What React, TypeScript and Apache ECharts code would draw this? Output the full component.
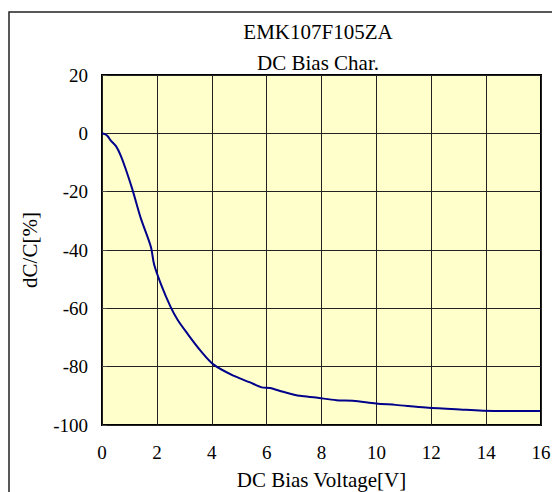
import React, { useEffect, useRef } from "react";
import * as echarts from "echarts";

const titleLines = ["EMK107F105ZA", "DC Bias Char."];
const xAxisName = "DC Bias Voltage[V]";
const yAxisName = "dC/C[%]";
const voltage = [0, 0.1, 0.2, 0.33, 0.51, 0.69, 0.87, 1.11, 1.41, 1.78, 1.9, 2.14, 2.5, 2.76, 3.1, 3.59, 4.07, 4.79, 5.4, 5.82, 6.12, 6.6, 7.21, 7.8, 8.54, 9.14, 9.99, 10.7, 11.8, 12.9, 14.3, 15.97];
const dcRatio = [0, -0.3, -0.9, -2.6, -4.4, -7.8, -12.4, -19.3, -29, -38.9, -45, -51.5, -59.5, -64, -68.5, -74.5, -79.3, -83.1, -85.4, -87.1, -87.3, -88.6, -90, -90.6, -91.5, -91.7, -92.6, -93.1, -94, -94.6, -95.2, -95.2];

export default function App() {
  const ref = useRef<HTMLDivElement>(null);
  useEffect(() => {
    const chart = echarts.init(ref.current!, null, { renderer: "svg" });
    const font = "'Liberation Serif', 'Times New Roman', serif";
    chart.setOption({
      animation: false,
      backgroundColor: "#ffffff",
      textStyle: { fontFamily: font },
      graphic: [
        {
          type: "rect",
          shape: { x: 9, y: 12, width: 700, height: 700 },
          style: { fill: "none", stroke: "#222", lineWidth: 1.5 },
          silent: true,
        },
        {
          type: "text",
          x: 318,
          y: 32,
          style: { text: titleLines[0], fontFamily: font, fontSize: 21, fill: "#000", align: "center", verticalAlign: "middle" },
        },
        {
          type: "text",
          x: 318,
          y: 63,
          style: { text: titleLines[1], fontFamily: font, fontSize: 21, fill: "#000", align: "center", verticalAlign: "middle" },
        },
      ],
      grid: {
        left: 102,
        right: 11,
        top: 75,
        bottom: 67,
        outerBoundsMode: "none",
        containLabel: false,
        show: true,
        backgroundColor: "#ffffcc",
        borderColor: "#000",
        borderWidth: 2,
      },
      xAxis: {
        type: "value",
        min: 0,
        max: 16,
        interval: 2,
        name: xAxisName,
        nameLocation: "middle",
        nameGap: 44,
        nameTextStyle: { fontFamily: font, fontSize: 21, color: "#000" },
        axisLine: { show: false },
        axisTick: { show: false },
        axisLabel: { fontFamily: font, fontSize: 19, color: "#000", margin: 18 },
        splitLine: { show: true, lineStyle: { color: "#222", width: 1 } },
      },
      yAxis: {
        type: "value",
        min: -100,
        max: 20,
        interval: 20,
        name: yAxisName,
        nameLocation: "middle",
        nameGap: 62,
        nameTextStyle: { fontFamily: font, fontSize: 21, color: "#000" },
        axisLine: { show: false },
        axisTick: { show: true, inside: true, length: 5, lineStyle: { color: "#444" } },
        axisLabel: { fontFamily: font, fontSize: 19, color: "#000", margin: 14 },
        splitLine: { show: true, lineStyle: { color: "#222", width: 1 } },
      },
      series: [
        {
          type: "line",
          data: voltage.map((v, i) => [v, dcRatio[i]]),
          showSymbol: false,
          smooth: 0.3,
          lineStyle: { color: "#00008b", width: 2 },
        },
      ],
    });
    return () => chart.dispose();
  }, []);
  return <div ref={ref} style={{ position: "absolute", left: 0, top: 0, width: 552, height: 492 }} />;
}
